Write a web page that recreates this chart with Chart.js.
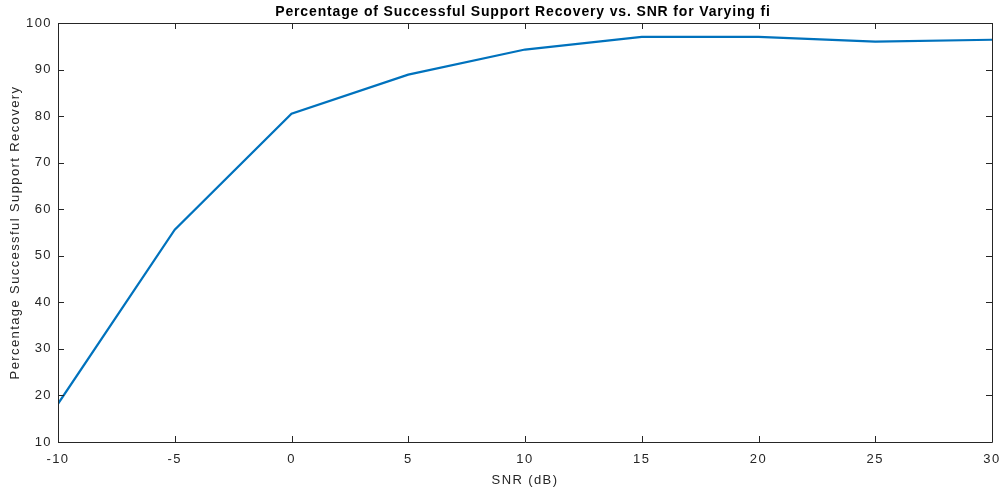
<!DOCTYPE html>
<html>
<head>
<meta charset="utf-8">
<script src="https://cdn.jsdelivr.net/npm/chart.js@4"></script>
<style>
  html, body { margin: 0; padding: 0; background: #fff; }
  #wrap { width: 1003px; height: 495px; position: relative; }
</style>
</head>
<body>
<div id="wrap"><canvas id="myChart" width="1003" height="495"></canvas></div>
<script>
const snrValues = [-10, -5, 0, 5, 10, 15, 20, 25, 30];
const recoveryPct = [18.2, 55.6, 80.5, 88.9, 94.3, 97.0, 97.0, 96.0, 96.4];
const chartTitle = 'Percentage of Successful Support Recovery vs. SNR for Varying fi';
const xTitle = 'SNR (dB)';
const yTitle = 'Percentage Successful Support Recovery';

const axisColor = '#262626';
const fontFamily = '"Liberation Sans", Arial, Helvetica, sans-serif';
const spacing = '1.4px';

// MATLAB-like text is spaced a bit wider than canvas default
const letterSpace = {
  id: 'letterSpace',
  beforeLayout(chart) { chart.ctx.letterSpacing = spacing; },
  beforeDraw(chart) { chart.ctx.letterSpacing = spacing; }
};

// draws the box, inward ticks on all sides, and the title
const matlabBox = {
  id: 'matlabBox',
  afterDraw(chart) {
    const ctx = chart.ctx;
    const a = chart.chartArea;
    const xs = chart.scales.x, ys = chart.scales.y;
    ctx.save();
    ctx.strokeStyle = axisColor;
    ctx.lineWidth = 1;
    ctx.beginPath();
    ctx.rect(Math.round(a.left) + 0.5, Math.round(a.top) + 0.5, Math.round(a.right - a.left), Math.round(a.bottom - a.top));
    ctx.stroke();
    const len = 6;
    ctx.beginPath();
    xs.ticks.forEach(t => {
      const px = Math.round(xs.getPixelForValue(t.value)) + 0.5;
      ctx.moveTo(px, a.bottom); ctx.lineTo(px, a.bottom - len);
      ctx.moveTo(px, a.top); ctx.lineTo(px, a.top + len);
    });
    ys.ticks.forEach(t => {
      const py = Math.round(ys.getPixelForValue(t.value)) + 0.5;
      ctx.moveTo(a.left, py); ctx.lineTo(a.left + len, py);
      ctx.moveTo(a.right, py); ctx.lineTo(a.right - len, py);
    });
    ctx.stroke();
    ctx.fillStyle = '#000';
    ctx.font = 'bold 14px ' + fontFamily;
    ctx.letterSpacing = '0.85px';
    ctx.textAlign = 'center';
    ctx.textBaseline = 'middle';
    ctx.fillText(chartTitle, 523, 12);
    ctx.restore();
  }
};

const ctx = document.getElementById('myChart').getContext('2d');
const myChart = new Chart(ctx, {
  type: 'line',
  data: {
    datasets: [{
      data: snrValues.map((x, i) => ({ x: x, y: recoveryPct[i] })),
      borderColor: '#0072BD',
      borderWidth: 2.2,
      pointRadius: 0,
      tension: 0,
      fill: false
    }]
  },
  options: {
    responsive: false,
    animation: false,
    layout: { padding: { top: 23, right: 11, left: 0, bottom: 0 } },
    plugins: {
      legend: { display: false },
      tooltip: { enabled: false }
    },
    scales: {
      x: {
        type: 'linear',
        min: -10,
        max: 30,
        afterFit(scale) { scale.height = 53; scale.paddingRight = 0; scale.paddingLeft = 0; },
        grid: { display: false, drawTicks: false },
        border: { display: false },
        ticks: { stepSize: 5, padding: 10, color: axisColor, font: { size: 13, family: fontFamily }, maxRotation: 0 },
        title: { display: true, text: xTitle, color: axisColor, font: { size: 13, family: fontFamily }, padding: { top: 0, bottom: 7 } }
      },
      y: {
        min: 10,
        max: 100,
        afterFit(scale) { scale.width = 58; scale.paddingTop = 0; scale.paddingBottom = 0; },
        grid: { display: false, drawTicks: false },
        border: { display: false },
        ticks: { stepSize: 10, padding: 6, color: axisColor, font: { size: 13, family: fontFamily } },
        title: { display: true, text: yTitle, color: axisColor, font: { size: 13, family: fontFamily }, padding: { top: 8, bottom: 0 } }
      }
    }
  },
  plugins: [letterSpace, matlabBox]
});
</script>
</body>
</html>
